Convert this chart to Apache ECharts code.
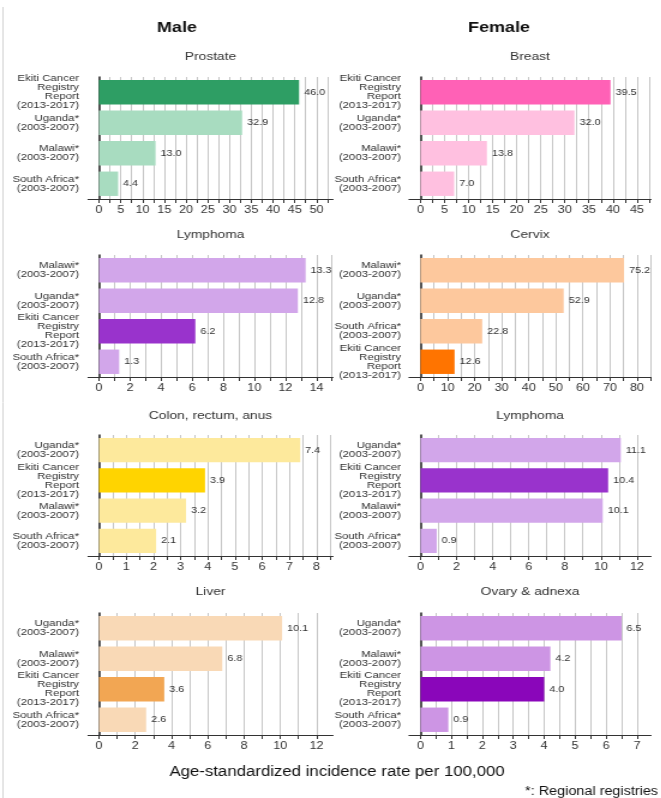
<!DOCTYPE html>
<html><head><meta charset="utf-8">
<script src="https://cdn.jsdelivr.net/npm/echarts@6/dist/echarts.min.js"></script>
<style>
html,body{margin:0;padding:0;background:#fff;overflow:hidden;width:661px;height:798px}
#c{width:550.833px;height:798px;transform:scaleX(1.2);transform-origin:0 0}
</style>
</head><body><div id="c"></div><script>
// ---- data ----
const EKITI = 'Ekiti Cancer\nRegistry\nReport\n(2013-2017)';
const UGANDA = 'Uganda*\n(2003-2007)';
const MALAWI = 'Malawi*\n(2003-2007)';
const SAFRICA = 'South Africa*\n(2003-2007)';

const prostateCats = [EKITI, UGANDA, MALAWI, SAFRICA];
const prostateVals = [46.0, 32.9, 13.0, 4.4];
const prostateTicks = [0, 5, 10, 15, 20, 25, 30, 35, 40, 45, 50];

const breastCats = [EKITI, UGANDA, MALAWI, SAFRICA];
const breastVals = [39.5, 32.0, 13.8, 7.0];
const breastTicks = [0, 5, 10, 15, 20, 25, 30, 35, 40, 45];

const maleLymphomaCats = [MALAWI, UGANDA, EKITI, SAFRICA];
const maleLymphomaVals = [13.3, 12.8, 6.2, 1.3];
const maleLymphomaTicks = [0, 2, 4, 6, 8, 10, 12, 14];

const cervixCats = [MALAWI, UGANDA, SAFRICA, EKITI];
const cervixVals = [75.2, 52.9, 22.8, 12.6];
const cervixTicks = [0, 10, 20, 30, 40, 50, 60, 70, 80];

const colonCats = [UGANDA, EKITI, MALAWI, SAFRICA];
const colonVals = [7.4, 3.9, 3.2, 2.1];
const colonTicks = [0, 1, 2, 3, 4, 5, 6, 7, 8];

const femaleLymphomaCats = [UGANDA, EKITI, MALAWI, SAFRICA];
const femaleLymphomaVals = [11.1, 10.4, 10.1, 0.9];
const femaleLymphomaTicks = [0, 2, 4, 6, 8, 10, 12];

const liverCats = [UGANDA, MALAWI, EKITI, SAFRICA];
const liverVals = [10.1, 6.8, 3.6, 2.6];
const liverTicks = [0, 2, 4, 6, 8, 10, 12];

const ovaryCats = [UGANDA, MALAWI, EKITI, SAFRICA];
const ovaryVals = [6.5, 4.2, 4.0, 0.9];
const ovaryTicks = [0, 1, 2, 3, 4, 5, 6, 7];

// ---- layout (reference pixels; horizontally scaled by S via CSS) ----
const S = 1.2;
const X = v => v / S;
const FONT = '"Liberation Sans", Arial, Helvetica, sans-serif';
const COL = [
  {axisStart: 88, zero: 99, lastTick: 316.5, axisEnd: 333, header: 177, headerText: 'Male', labelRight: 79},
  {axisStart: 409, zero: 420.5, lastTick: 637, axisEnd: 651, header: 499, headerText: 'Female', labelRight: 401}
];
const ROW = [
  {top: 77, bottom: 199, title: 57},
  {top: 255, bottom: 377, title: 235},
  {top: 435, bottom: 556, title: 416},
  {top: 613, bottom: 735, title: 592}
];

const panels = [
  {col: 0, row: 0, title: 'Prostate', cats: prostateCats, vals: prostateVals, ticks: prostateTicks, dark: '#2e9e64', light: '#a8dcc0'},
  {col: 1, row: 0, title: 'Breast', cats: breastCats, vals: breastVals, ticks: breastTicks, dark: '#ff61b6', light: '#ffc0e0'},
  {col: 0, row: 1, title: 'Lymphoma', cats: maleLymphomaCats, vals: maleLymphomaVals, ticks: maleLymphomaTicks, dark: '#9933cc', light: '#d2a6ea'},
  {col: 1, row: 1, title: 'Cervix', cats: cervixCats, vals: cervixVals, ticks: cervixTicks, dark: '#ff7400', light: '#fdc89d'},
  {col: 0, row: 2, title: 'Colon, rectum, anus', cats: colonCats, vals: colonVals, ticks: colonTicks, dark: '#ffd400', light: '#fde99c'},
  {col: 1, row: 2, title: 'Lymphoma', cats: femaleLymphomaCats, vals: femaleLymphomaVals, ticks: femaleLymphomaTicks, dark: '#9933cc', light: '#d2a6ea'},
  {col: 0, row: 3, title: 'Liver', cats: liverCats, vals: liverVals, ticks: liverTicks, dark: '#f2a653', light: '#f9d9b6'},
  {col: 1, row: 3, title: 'Ovary & adnexa', cats: ovaryCats, vals: ovaryVals, ticks: ovaryTicks, dark: '#8a06ba', light: '#cd95e4'}
];

const grid = [], xAxis = [], yAxis = [], series = [];
const graphic = [
  {type: 'line', shape: {x1: X(3), y1: 7, x2: X(3), y2: 798}, style: {stroke: '#d6d6d6', lineWidth: 1}, silent: true}
];

COL.forEach(c => {
  graphic.push({type: 'text', x: X(c.header), y: 28, silent: true,
    style: {text: c.headerText, textAlign: 'center', textVerticalAlign: 'middle', fontSize: 15, fontWeight: 'bold', fontFamily: FONT, fill: '#111'}});
});

panels.forEach((pn, i) => {
  const c = COL[pn.col], r = ROW[pn.row];
  const last = pn.ticks[pn.ticks.length - 1];
  const ppu = (c.lastTick - c.zero) / last;
  const min = -(c.zero - c.axisStart) / ppu;
  const max = last + (c.axisEnd - c.lastTick) / ppu;
  const step = (pn.ticks[1] - pn.ticks[0]) / 2;
  const gridVals = [];
  for (let k = 0; k * step <= max + 1e-9; k++) gridVals.push(Math.round(k * step * 1e6) / 1e6);

  grid.push({left: X(c.axisStart), width: X(c.axisEnd - c.axisStart), top: r.top, height: r.bottom - r.top, containLabel: false});
  xAxis.push({
    type: 'value', gridIndex: i, min: min, max: max,
    axisLine: {show: true, onZero: false, lineStyle: {color: '#333', width: 1}},
    axisTick: {show: true, customValues: gridVals, length: 4, lineStyle: {color: '#333', width: 1}},
    axisLabel: {customValues: pn.ticks, fontSize: 10.5, color: '#333', margin: 6, fontFamily: FONT},
    splitLine: {show: true, lineStyle: {color: '#c6c6c6', width: 1}}
  });
  yAxis.push({
    type: 'category', gridIndex: i, data: pn.cats, inverse: true,
    axisLine: {show: true, onZero: true, lineStyle: {color: '#222', width: 1.5}},
    axisTick: {show: false},
    axisLabel: {fontSize: 9.5, lineHeight: 9, color: '#333', margin: X(c.axisStart - c.labelRight), fontFamily: FONT, align: 'right'},
    splitLine: {show: false}
  });
  series.push({
    type: 'bar', xAxisIndex: i, yAxisIndex: i, barCategoryGap: '20%',
    data: pn.vals.map((v, j) => ({value: v, itemStyle: {color: pn.cats[j] === EKITI ? pn.dark : pn.light}})),
    label: {show: true, position: 'right', distance: X(5), fontSize: 9, color: '#333', fontFamily: FONT,
      formatter: p => Number(p.value).toFixed(1)},
    silent: true, animation: false
  });
  graphic.push({type: 'text', x: X((c.axisStart + c.axisEnd) / 2), y: r.title, silent: true,
    style: {text: pn.title, textAlign: 'center', textVerticalAlign: 'middle', fontSize: 11.5, fontFamily: FONT, fill: '#333'}});
});

graphic.push({type: 'text', x: X(337), y: 772, silent: true,
  style: {text: 'Age-standardized incidence rate per 100,000', textAlign: 'center', textVerticalAlign: 'middle', fontSize: 14, fontFamily: FONT, fill: '#111'}});
graphic.push({type: 'text', x: X(658), y: 792, silent: true,
  style: {text: '*: Regional registries', textAlign: 'right', textVerticalAlign: 'middle', fontSize: 12, fontFamily: FONT, fill: '#111'}});

const chart = echarts.init(document.getElementById('c'), null, {renderer: 'canvas'});
chart.setOption({
  animation: false,
  backgroundColor: '#fff',
  grid, xAxis, yAxis, series, graphic
});
</script></body></html>
